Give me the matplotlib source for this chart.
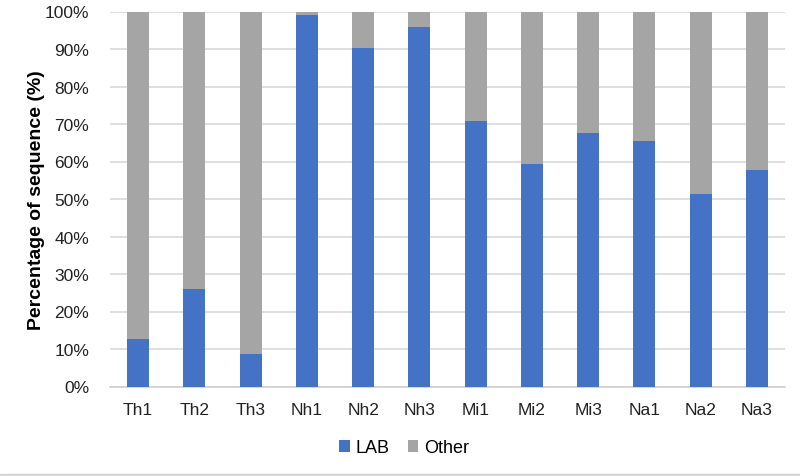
import matplotlib
matplotlib.use("Agg")
import matplotlib.pyplot as plt
from matplotlib.ticker import FuncFormatter
from matplotlib.patches import Rectangle

categories = ["Th1", "Th2", "Th3", "Nh1", "Nh2", "Nh3", "Mi1", "Mi2", "Mi3", "Na1", "Na2", "Na3"]
lab = [12.7, 26.0, 8.6, 99.1, 90.4, 95.8, 70.7, 59.4, 67.5, 65.4, 51.3, 57.8]
other = [100 - v for v in lab]

plt.rcParams['font.family'] = ['Liberation Sans', 'DejaVu Sans']

fig = plt.figure(figsize=(8, 4.77), dpi=100)
ax = fig.add_axes([110/800, 1 - 387.5/477, 675/800, 375/477])

x = list(range(len(categories)))
w = 0.39
ax.bar(x, lab, width=w, color="#4472C4", label="LAB", zorder=3)
ax.bar(x, other, width=w, bottom=lab, color="#A5A5A5", label="Other", zorder=3)

ax.set_xlim(-0.5, len(categories) - 0.5)
ax.set_ylim(0, 100)
ax.set_yticks(range(0, 101, 10))
ax.yaxis.set_major_formatter(FuncFormatter(lambda v, p: f"{int(v)}%"))
ax.set_xticks(x)
ax.set_xticklabels(categories)
ax.tick_params(axis='both', length=0, labelsize=12.5, colors="#222222")
ax.tick_params(axis='y', pad=15)
ax.tick_params(axis='x', pad=11)
ax.grid(axis='y', color="#D9D9D9", linewidth=1.2, zorder=0)
for s in ["top", "right", "left"]:
    ax.spines[s].set_visible(False)
ax.spines["bottom"].set_color("#D0D0D0")
ax.spines["bottom"].set_linewidth(1.2)

ax.set_ylabel("Percentage of sequence (%)", fontsize=14, fontweight="bold", labelpad=0)

leg = fig.legend(loc="center", bbox_to_anchor=(0.505, 1 - 449/477), ncol=2, frameon=False,
                 fontsize=13, handlelength=0.6, handleheight=0.6, handletextpad=0.3,
                 columnspacing=1.0)

fig.add_artist(Rectangle((0, 0), 1, 2/477, transform=fig.transFigure, color="#D5D5D5"))

fig.savefig("out.png", dpi=100)
